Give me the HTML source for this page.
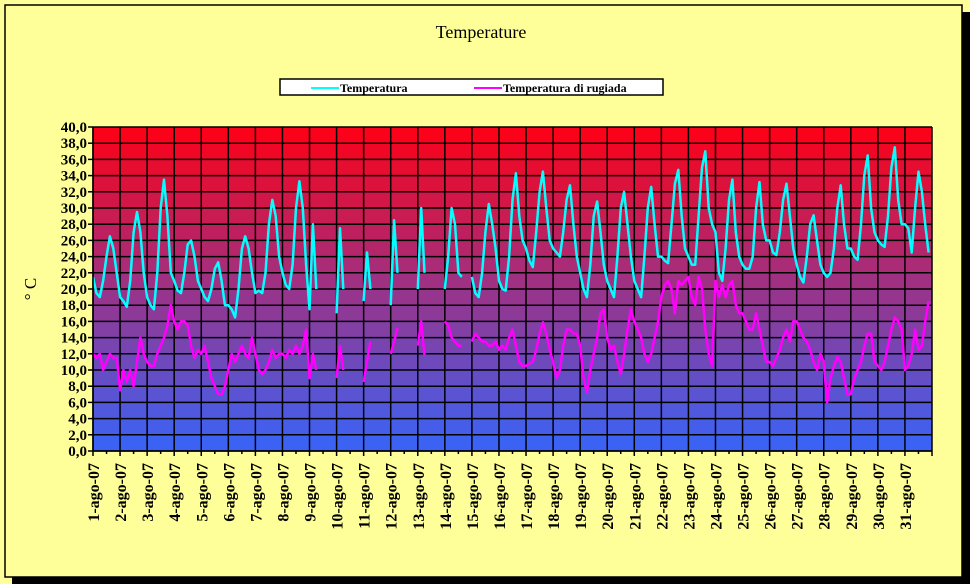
<!DOCTYPE html>
<html><head><meta charset="utf-8"><style>
html,body{margin:0;padding:0;background:#ffff99;}
svg{display:block;}
</style></head><body>
<svg id="chart" width="970" height="584" xmlns="http://www.w3.org/2000/svg">
<rect x="0" y="0" width="970" height="584" fill="#ffff99"/>
<rect x="12" y="12" width="958" height="572" fill="#000"/>
<rect x="5" y="5" width="957" height="572" fill="#ffff99" stroke="#000" stroke-width="1.5"/>
<text x="481" y="38" text-anchor="middle" font-family="Liberation Serif, serif" font-size="18" fill="#000">Temperature</text>
<g>
<rect x="280" y="79" width="383" height="16" fill="#fff" stroke="#000" stroke-width="1.5"/>
<g>
<line x1="311" y1="88" x2="339" y2="88" stroke="#00ffff" stroke-width="2"/>
<text x="340" y="92" font-family="Liberation Serif, serif" font-weight="bold" font-size="12">Temperatura</text>
</g>
<g>
<line x1="474" y1="88" x2="502" y2="88" stroke="#ff00ff" stroke-width="2"/>
<text x="503" y="92" font-family="Liberation Serif, serif" font-weight="bold" font-size="12">Temperatura di rugiada</text>
</g>
</g>
<g id="bands"></g>
<g id="grid"></g>
<g id="series"></g>
<g id="axes"></g>
<text x="0" y="0" transform="translate(36,289) rotate(-90)" text-anchor="middle" font-family="Liberation Serif, serif" font-size="17">° C</text>
</svg>
<script>
const dayLabels = [];
for (let d = 1; d <= 31; d++) dayLabels.push(d + "-ago-07");
const yTicks = [0,2,4,6,8,10,12,14,16,18,20,22,24,26,28,30,32,34,36,38,40];
const N = null;
const temperatura = [
21.5,19.5,19,21,24,26.5,25,22,
19,18.5,17.8,21,27,29.5,27,22,
19,18,17.5,22,30,33.5,29,22,
21,19.8,19.5,22,25.5,26,24,21,
20,19,18.5,20,22.5,23.3,21,18,
18,17.5,16.5,20,25,26.5,25,22,
19.5,19.8,19.5,22,28,31,29,24,
22,20.5,20,23,30,33.3,30,23,
17.5,28,20,N,N,N,N,N,
17,27.5,20,N,N,N,N,N,
18.5,24.5,20,N,N,N,N,N,
18,28.5,22,N,N,N,N,N,
20,30,22,N,N,N,N,N,
20,24,30,28,22,21.5,N,N,
21.5,19.5,19,22,27,30.5,28,25,
21,20,19.8,24,31,34.3,29,26,
25,23.5,22.7,27,32,34.5,30,26,
25,24.5,24,27,31,32.8,28,24,
22,20,19,23,29,30.8,27,23,
21,20,19,24,30,32,28,24,
21,20,19,24,30,32.6,28,24,
24,23.5,23.2,28,33,34.7,29,25,
24,23,23,29,35,37,30,28,
27,22,21,25,31,33.5,27,24,
23,22.5,22.5,24,30,33.2,28,26,
26,24.5,24.2,27,31,33,29,25,
23,21.5,20.8,24,28,29.1,26,23,
22,21.5,22,25,30,32.8,28,25,
25,24,23.6,28,34,36.5,30,27,
26,25.5,25.2,29,35,37.5,31,28,
28,27.5,24.5,30,34.5,32,28,24.5
];
const rugiada = [
12,11.5,12,10,11,12,11.5,11.5,
7.5,10,8.5,10,8,11,14,12,
11,10.5,10.5,12,13,14,15.5,18,
16,15,16,16,15.5,13,11.5,12.5,
12,13,11,9,8,7,7,8,
10,12,11,12,13,12,11.5,14,
12,10,9.5,10,11,12.5,11.5,12,
12,11.5,12.5,12,13,12,13,15,
9,12,10,N,N,N,N,N,
9,13,10,N,N,N,N,N,
8.5,11,13.5,N,N,N,N,N,
12,13.5,15.2,N,N,N,N,N,
13,16,11.8,N,N,N,N,N,
16,15.5,14,13.5,13,13,N,N,
13.5,14.5,14,13.5,13.5,13,13,13.5,
12.5,13,12.5,14,15,13,11,10.5,
10.5,10.8,11,12.5,14.5,15.9,14.5,12.5,
11,9,10,13,15,15,14.5,14.5,
13,9,7.2,10,12,14,17,17.5,
14,12.5,13,11,9.5,12,15,17.5,
16,15,14,12,11,12,14,16,
19,20.5,21,20,17,21,20.5,21,
21.5,19,18,21.5,20,15,12,10.5,
21,19,20.5,19,20.5,21,18,17,
17,16,15,15,17,15,13,11,
11,10.5,11.5,12.5,14,15,13.5,16,
16,15,14,13.5,12.5,11,10,12,
11,6,9,10.5,11.6,11,9,7,
7,9,10,11,13,14.5,14.5,11,
10.5,10,11,13,15,16.5,16,15,
10,10.5,12,15,12.5,13,16,18.5
];
const PX0 = 93, PX1 = 932, PY0 = 127, PY1 = 451, YMAX = 40, PER_DAY = 8;
const NS = "http://www.w3.org/2000/svg";
const dayW = (PX1 - PX0) / dayLabels.length;
function xDay(d) { return PX0 + d * dayW; }
function xIdx(i) { return PX0 + i * dayW / PER_DAY; }
function yVal(v) { return PY1 - v / YMAX * (PY1 - PY0); }
function mk(tag, attrs, parent) { const e = document.createElementNS(NS, tag); for (const k in attrs) e.setAttribute(k, attrs[k]); parent.appendChild(e); return e; }
const bands = document.getElementById('bands');
for (let k = 0; k < yTicks.length - 1; k++) {
  const t = (k + 0.5) / (yTicks.length - 1);
  const r = Math.round(55 + 200 * t), g = Math.round(100 * (1 - t)), b = Math.round(250 * (1 - t) + 20 * t);
  const r2 = mk('rect', {x: PX0, y: yVal(yTicks[k+1]), width: PX1 - PX0, height: yVal(yTicks[k]) - yVal(yTicks[k+1]) + 0.5, fill: `rgb(${r},${g},${b})`}, bands);
  
  
}
const grid = document.getElementById('grid');
yTicks.forEach(v => {
  const l = mk('line', {x1: PX0, x2: PX1, y1: yVal(v), y2: yVal(v), stroke: '#000', 'stroke-width': 1.5}, grid);
  
  
});
for (let d = 0; d <= dayLabels.length; d++) {
  const l = mk('line', {x1: xDay(d), x2: xDay(d), y1: PY0, y2: PY1, stroke: '#000', 'stroke-width': 1.5}, grid);
  
  
}
const series = document.getElementById('series');
function drawSeries(arr, color, name) {
  let d = '', pen = false;
  arr.forEach((v, i) => {
    if (v === null) { pen = false; return; }
    d += (pen ? 'L' : 'M') + xIdx(i).toFixed(1) + ' ' + yVal(v).toFixed(1) + ' ';
    pen = true;
  });
  const p = mk('path', {d: d, fill: 'none', stroke: color, 'stroke-width': 2.5, 'stroke-linejoin': 'round'}, series);
  
  
}
drawSeries(rugiada, '#ff00ff', 'line-temperatura-di-rugiada');
drawSeries(temperatura, '#00ffff', 'line-temperatura');
const axes = document.getElementById('axes');
mk('line', {x1: PX0, x2: PX0, y1: PY0, y2: PY1, stroke: '#000', 'stroke-width': 1.5}, axes);
mk('line', {x1: PX0, x2: PX1, y1: PY1, y2: PY1, stroke: '#000', 'stroke-width': 1.5}, axes);
yTicks.forEach(v => {
  mk('line', {x1: PX0 - 5, x2: PX0, y1: yVal(v), y2: yVal(v), stroke: '#000', 'stroke-width': 1.5}, axes);
  const t = mk('text', {x: PX0 - 6, y: yVal(v) + 5, 'text-anchor': 'end', 'font-family': 'Liberation Serif, serif', 'font-weight': 'bold', 'font-size': 15}, axes);
  t.textContent = v.toFixed(1).replace('.', ',');
  
  
});
for (let d = 0; d <= dayLabels.length * 2; d++) {
  mk('line', {x1: PX0 + d * dayW / 2, x2: PX0 + d * dayW / 2, y1: PY1, y2: PY1 + (d % 2 ? 3 : 5), stroke: '#000', 'stroke-width': 1.5}, axes);
}
dayLabels.forEach((lab, d) => {
  const x = xDay(d) + 6;
  const t = mk('text', {x: 0, y: 0, transform: `translate(${x.toFixed(1)},463) rotate(-90)`, 'text-anchor': 'end', 'font-family': 'Liberation Serif, serif', 'font-weight': 'bold', 'font-size': 16}, axes);
  t.textContent = lab;
  
  
});
</script>
</body></html>
